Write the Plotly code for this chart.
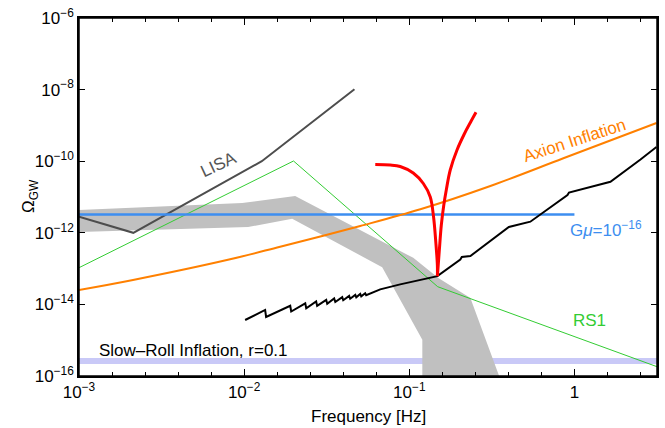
import numpy as np
import plotly.graph_objects as go

# ---- data (log10 values) ----
lisa_logf = [-3.0, -2.671, -1.893, -1.332]
lisa_logo = [-11.55, -12.0, -10.0, -7.99]

rs1_logf = [-3.0, -1.701, -0.828, 0.5]
rs1_logo = [-12.975, -9.994, -13.506, -15.74]

cs_logf = [-3.0, 0.0]
cs_logo = [-11.49, -11.49]

sr_logf = [-3.0, 0.5]
sr_logo = [-15.58, -15.58]

axion_logf = [-3.0, -2.673, -2.085, -1.782, -1.297, -0.933, -0.509, -0.067, 0.497]
axion_logo = [-13.598, -13.318, -12.740, -12.388, -11.810, -11.344, -10.693, -9.919, -8.933]

red_left_logf = [-1.206, -1.115, -1.055, -0.976, -0.915, -0.873, -0.853, -0.839, -0.830, -0.8297]
red_left_logo = [-10.092, -10.106, -10.148, -10.330, -10.623, -11.0, -11.559, -12.285, -12.899, -13.21]
red_right_logf = [-0.8297, -0.818, -0.806, -0.791, -0.776, -0.752, -0.711, -0.667, -0.630, -0.596]
red_right_logo = [-13.21, -12.480, -11.782, -11.223, -10.804, -10.246, -9.687, -9.240, -8.919, -8.634]

black_logf = [-1.994,
              -1.873, -1.867, -1.721, -1.715, -1.630, -1.624, -1.564, -1.558,
              -1.503, -1.497, -1.455, -1.448, -1.406, -1.400, -1.364, -1.358,
              -1.327, -1.321, -1.297, -1.291, -1.267, -1.261,
              -1.236, -1.176, -1.055, -0.933, -0.8297,
              -0.691, -0.682, -0.630, -0.509, -0.406, -0.397, -0.267,
              -0.042, -0.033, 0.218, 0.40, 0.497]
black_logo = [-14.436,
              -14.156, -14.352, -14.039, -14.198, -13.969, -14.109, -13.916, -14.042,
              -13.872, -13.980, -13.832, -13.933, -13.796, -13.883, -13.763, -13.841,
              -13.735, -13.804, -13.709, -13.774, -13.687, -13.743,
              -13.70, -13.58, -13.44, -13.32, -13.21,
              -12.746, -12.676, -12.648, -12.229, -11.880, -11.838, -11.690,
              -10.944, -10.874, -10.573, -9.953, -9.603]

band_logf = [-3.0, -2.012, -1.691, -0.976, -0.824, -0.630, -0.448,
             -0.921, -0.921, -1.164, -1.709, -1.976, -3.0]
band_logo = [-11.36, -11.17, -10.97, -12.70, -13.26, -13.82, -16.1,
             -16.1, -14.99, -12.96, -11.61, -11.84, -11.98]

x_major = [1e-3, 1e-2, 1e-1, 1]
x_major_text = ["10<sup>\u22123</sup>", "10<sup>\u22122</sup>", "10<sup>\u22121</sup>", "1"]
y_major = [1e-16, 1e-14, 1e-12, 1e-10, 1e-8, 1e-6]
y_major_text = ["10<sup>\u221216</sup>", "10<sup>\u221214</sup>", "10<sup>\u221212</sup>",
                "10<sup>\u221210</sup>", "10<sup>\u22128</sup>", "10<sup>\u22126</sup>"]

def p(a):
    return 10 ** np.array(a, dtype=float)

FONT = "Liberation Sans"
fig = go.Figure()

fig.add_trace(go.Scatter(x=p(sr_logf), y=p(sr_logo), mode="lines",
                         line=dict(color="#c9c9f7", width=6)))
fig.add_trace(go.Scatter(x=p(band_logf), y=p(band_logo), mode="lines", fill="toself",
                         fillcolor="#c0c0c0", line=dict(width=0, color="#c0c0c0")))
fig.add_trace(go.Scatter(x=p(lisa_logf), y=p(lisa_logo), mode="lines",
                         line=dict(color="#4d4d4d", width=2)))
fig.add_trace(go.Scatter(x=p(rs1_logf), y=p(rs1_logo), mode="lines",
                         line=dict(color="#33cc33", width=1)))
fig.add_trace(go.Scatter(x=p(cs_logf), y=p(cs_logo), mode="lines",
                         line=dict(color="#3d8ef0", width=2.5)))
fig.add_trace(go.Scatter(x=p(axion_logf), y=p(axion_logo), mode="lines",
                         line=dict(color="#ff8000", width=2, shape="spline")))
fig.add_trace(go.Scatter(x=p(black_logf), y=p(black_logo), mode="lines",
                         line=dict(color="black", width=2)))
fig.add_trace(go.Scatter(x=p(red_left_logf), y=p(red_left_logo), mode="lines",
                         line=dict(color="#ff0000", width=3, shape="spline")))
fig.add_trace(go.Scatter(x=p(red_right_logf), y=p(red_right_logo), mode="lines",
                         line=dict(color="#ff0000", width=3, shape="spline")))

x_minor = [10 ** (-3 + 0.2 * k) for k in range(18) if k % 5 != 0]

fig.update_layout(
    width=665, height=428,
    margin=dict(l=79, r=8, t=18, b=52, autoexpand=False),
    plot_bgcolor="white", paper_bgcolor="white",
    showlegend=False,
    font=dict(family=FONT, size=17, color="black"),
)
fig.update_xaxes(type="log", range=[-3, 0.5], tickmode="array", automargin=False,
                 tickvals=x_major, ticktext=x_major_text, ticklabeloverflow="allow",
                 ticks="inside", ticklen=7, tickwidth=1.2, tickcolor="black",
                 showline=True, linewidth=1.5, linecolor="black", mirror="allticks",
                 showgrid=False, zeroline=False,
                 tickfont=dict(family=FONT, size=17),
                 minor=dict(tickmode="array", tickvals=x_minor, ticks="inside",
                            ticklen=4, tickwidth=1.2, tickcolor="black", showgrid=False))
fig.update_yaxes(type="log", range=[-16, -6], tickmode="array", automargin=False,
                 tickvals=y_major, ticktext=y_major_text, ticklabeloverflow="allow",
                 ticks="inside", ticklen=6, tickwidth=1.2, tickcolor="black",
                 showline=True, linewidth=1.5, linecolor="black", mirror="allticks",
                 showgrid=False, zeroline=False,
                 tickfont=dict(family=FONT, size=17))

# plot frame
fig.add_shape(type="rect", xref="paper", yref="paper", x0=0, x1=1, y0=0, y1=1,
              line=dict(color="black", width=1.5), layer="above")

ann = [
    dict(x=-2.152, y=-10.106, text="LISA", textangle=-25, font=dict(color="#555555", size=17)),
    dict(x=0.0, y=-9.408, text="Axion Inflation", textangle=-18, font=dict(color="#ff8000", size=17)),
    dict(x=0.194, y=-11.894, text="G<i>\u03bc</i>=10<sup>\u221216</sup>", font=dict(color="#3d8ef0", size=17)),
    dict(x=0.091, y=-14.436, text="RS1", font=dict(color="#33cc33", size=17)),
    dict(x=-2.889, y=-15.274, text="Slow\u2013Roll Inflation, r=0.1", xanchor="left",
         font=dict(color="black", size=17)),
]
for a in ann:
    a.setdefault("xanchor", "center")
    fig.add_annotation(xref="x", yref="y", showarrow=False, yanchor="middle", **a)

fig.add_annotation(xref="paper", yref="paper", x=(30 - 79) / 578, y=(376 - 196) / 358,
                   text="\u03a9<sub>GW</sub>", textangle=-90, showarrow=False,
                   xanchor="center", yanchor="middle", font=dict(size=17))
fig.add_annotation(xref="paper", yref="paper", x=0.5, y=(376 - 416) / 358,
                   text="Frequency [Hz]", showarrow=False,
                   xanchor="center", yanchor="middle", font=dict(size=17))

fig.write_html("out.html",
               config={"displayModeBar": False},
               post_script="document.body.style.margin='0';document.body.style.overflow='hidden';")
